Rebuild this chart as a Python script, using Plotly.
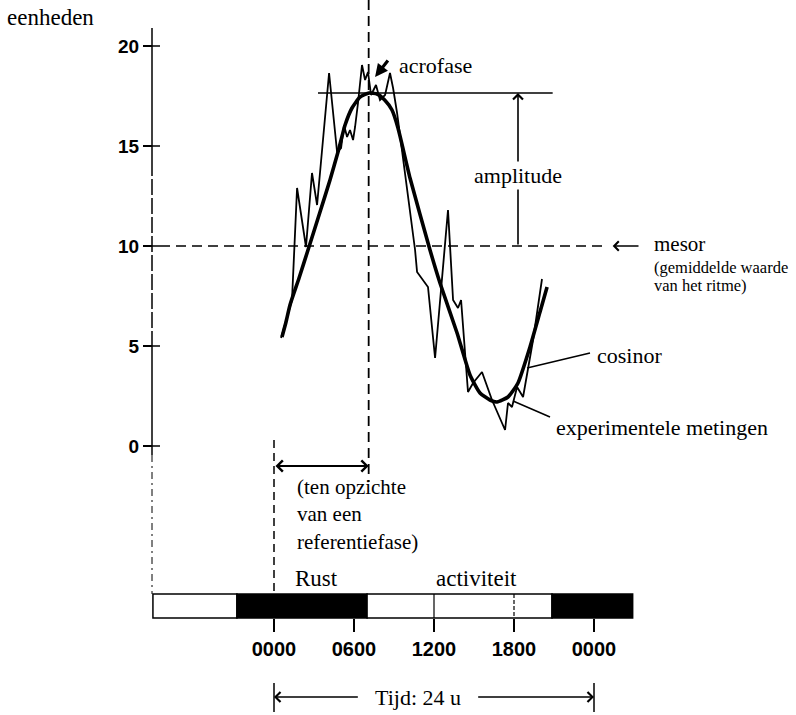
import plotly.graph_objects as go

# Experimental measurements: hours after the 0000 reference and measured units
meting_uur = [0.53, 1.35, 1.73, 2.40, 2.85, 3.23, 4.13, 4.73, 5.03, 5.25, 5.48, 5.70,
              5.93, 6.08, 6.30, 6.60, 6.83, 7.05, 7.28, 7.65, 7.95, 8.33, 8.70, 8.93,
              9.23, 9.68, 10.58, 10.73, 11.55, 12.08, 13.05, 13.43, 13.80, 14.03, 14.55,
              14.93, 15.60, 16.35, 17.33, 17.55, 17.85, 18.23, 18.68, 19.43, 20.10]
meting_waarde = [5.40, 7.30, 12.90, 9.95, 13.65, 12.05, 18.65, 14.70, 14.90, 16.05, 15.45, 15.80,
                 15.30, 15.95, 17.15, 19.05, 18.30, 18.70, 17.55, 18.05, 17.30, 17.55, 18.65, 17.90,
                 16.65, 14.30, 9.80, 8.70, 7.95, 4.40, 11.80, 7.30, 6.90, 7.30, 2.70,
                 3.15, 3.70, 2.30, 0.80, 2.15, 1.95, 2.95, 2.45, 5.30, 8.35]

# Fitted cosinor curve
cosinor_uur = [0.60, 0.90, 1.20, 1.88, 2.55, 3.45, 4.20, 4.80, 5.33, 5.85, 6.45, 7.13,
               7.73, 8.30, 8.85, 9.30, 10.20, 11.70, 12.45, 13.73, 14.70, 15.45, 16.20,
               16.73, 17.55, 18.30, 19.20, 19.95, 20.48]
cosinor_waarde = [5.45, 6.20, 7.05, 8.40, 9.80, 11.70, 13.30, 14.70, 16.05, 16.90, 17.45, 17.65,
                  17.60, 17.30, 16.80, 15.90, 13.40, 9.80, 8.15, 5.65, 3.55, 2.65, 2.30,
                  2.20, 2.45, 3.15, 4.95, 6.70, 7.95]

y_ticks = [0, 5, 10, 15, 20]
tijd_ticks = [0, 6, 12, 18, 24]
tijd_labels = ["0000", "0600", "1200", "1800", "0000"]

# Rest / activity schedule shown in the time bar
fase_begin = [-9.08, -2.78, 6.98, 20.85]
fase_eind = [-2.78, 6.98, 20.85, 26.9]
fase_donker = [False, True, False, True]

MESOR = 10.0
PIEK = 17.65
ACROFASE_UUR = 7.1

# ---- layout geometry (data units: hours horizontally, units vertically) ----
X_RANGE = [-20.55, 39.15]
Y_RANGE = [-13.45, 22.3]
AS_X = -9.15
BALK_BOVEN = -7.4
BALK_ONDER = -8.6

SERIF = "Liberation Serif"
SANS = "Liberation Sans"

fig = go.Figure()

fig.add_trace(go.Bar(
    orientation="h",
    y=[(BALK_BOVEN + BALK_ONDER) / 2] * len(fase_begin),
    x=[e - b for b, e in zip(fase_begin, fase_eind)],
    base=fase_begin,
    width=BALK_BOVEN - BALK_ONDER,
    marker=dict(color=["black" if d else "white" for d in fase_donker],
                line=dict(color="black", width=1.5)),
    hoverinfo="skip",
))

fig.add_trace(go.Scatter(
    x=meting_uur, y=meting_waarde, mode="lines",
    line=dict(color="black", width=1.8), hoverinfo="skip",
))
fig.add_trace(go.Scatter(
    x=cosinor_uur, y=cosinor_waarde, mode="lines",
    line=dict(color="black", width=3.6, shape="spline", smoothing=0.5),
    hoverinfo="skip",
))

shapes = []


def lijn(x0, y0, x1, y1, width=1.5, dash="solid"):
    shapes.append(dict(type="line", xref="x", yref="y", x0=x0, y0=y0, x1=x1, y1=y1,
                       line=dict(color="black", width=width, dash=dash)))


# vertical axis with crossing ticks
lijn(AS_X, 20.9, AS_X, 14.3)
lijn(AS_X, 14.3, AS_X, 5.6, dash="16px,3px")
lijn(AS_X, 5.6, AS_X, -0.45)
for v in y_ticks:
    lijn(AS_X, v, AS_X + 0.6, v)
lijn(AS_X, -0.45, AS_X, BALK_BOVEN, width=1, dash="7px,4px,2px,4px")

# reference phase line at 0000 and acrophase line
lijn(0, 0.3, 0, BALK_BOVEN, width=1.5, dash="8px,5px")
lijn(ACROFASE_UUR, Y_RANGE[1], ACROFASE_UUR, -1.8, width=1.8, dash="10px,6px")

# mesor and peak level
lijn(-8.55, MESOR, 24.7, MESOR, width=1.6, dash="10px,6px")
lijn(3.3, PIEK, 20.9, PIEK, width=1.6)

# clock marks through the bar
lijn(12, BALK_BOVEN, 12, BALK_ONDER, width=1.2)
lijn(18, BALK_BOVEN, 18, BALK_ONDER, width=1.2, dash="4px,2px")

# span of 24 h
lijn(0, -11.85, 0, -13.3, width=1.5)
lijn(24, -11.85, 24, -13.3, width=1.5)

# leader lines
lijn(18.98, 3.9, 23.7, 4.65, width=1.5)
lijn(17.93, 2.25, 20.7, 1.45, width=1.5)

ann = []


def tekst(x, y, s, size=22, anchor="left", family=SERIF, **kw):
    ann.append(dict(x=x, y=y, xref="x", yref="y", text=s, showarrow=False,
                    xanchor=anchor, yanchor="middle",
                    font=dict(family=family, size=size, color="black"), **kw))


def pijl(x, y, ax, ay, head=4, width=1.5, size=1.0, **kw):
    ann.append(dict(x=x, y=y, ax=ax, ay=ay, xref="x", yref="y", axref="x", ayref="y",
                    text="", showarrow=True, arrowhead=head, arrowwidth=width,
                    arrowsize=size, arrowcolor="black", standoff=0, startstandoff=0, **kw))


tekst(-20.2, 21.45, "eenheden", size=23)

pijl(7.58, 18.45, 8.63, 19.35, head=2, width=3.2, size=0.8)
tekst(9.2, 19.05, "acrofase")

pijl(18.3, PIEK, 18.3, MESOR, head=4, width=1.6, size=1.2)
tekst(18.3, 13.55, "amplitude", anchor="center", bgcolor="white")

pijl(25.4, MESOR, 27.45, MESOR, head=4, width=1.5, size=1.2)
tekst(28.35, 10.1, "mesor", size=21)
tekst(28.35, 8.95, "(gemiddelde waarde", size=16.5)
tekst(28.35, 8.05, "van het ritme)", size=16.5)

tekst(24.1, 4.55, "cosinor")
tekst(21.0, 0.95, "experimentele metingen")

pijl(ACROFASE_UUR, -1.0, 0, -1.0, head=4, width=1.8, size=1.2,
     arrowside="end+start", startarrowhead=4, startarrowsize=1.2)
tekst(1.6, -3.4, "(ten opzichte<br>van een<br>referentiefase)", size=21, align="left")

tekst(1.4, -6.6, "Rust", size=23)
tekst(15.2, -6.6, "activiteit", size=23, anchor="center")

tekst(10.8, -12.55, "Tijd: 24 u", size=22, anchor="center")
pijl(0, -12.55, 6.4, -12.55, head=4, width=1.6, size=1.2)
pijl(24, -12.55, 15.2, -12.55, head=4, width=1.6, size=1.2)

fig.update_layout(
    width=796, height=715,
    margin=dict(l=0, r=0, t=0, b=0),
    paper_bgcolor="white", plot_bgcolor="white",
    showlegend=False,
    shapes=shapes,
    annotations=ann,
    xaxis=dict(
        range=X_RANGE, domain=[0, 1], anchor="free",
        position=(BALK_ONDER - Y_RANGE[0]) / (Y_RANGE[1] - Y_RANGE[0]),
        tickvals=tijd_ticks, ticktext=tijd_labels,
        ticks="outside", ticklen=13, tickwidth=1.5, tickcolor="black",
        tickfont=dict(family=SANS, size=20, color="black", weight="bold"),
        showline=False, showgrid=False, zeroline=False, fixedrange=True,
    ),
    yaxis=dict(
        range=Y_RANGE, domain=[0, 1], anchor="free",
        position=(AS_X - X_RANGE[0]) / (X_RANGE[1] - X_RANGE[0]),
        tickvals=y_ticks,
        ticks="outside", ticklen=9, tickwidth=1.5, tickcolor="black",
        tickfont=dict(family=SANS, size=19, color="black", weight="bold"),
        showline=False, showgrid=False, zeroline=False, fixedrange=True,
    ),
)

fig.write_html("out.html")
